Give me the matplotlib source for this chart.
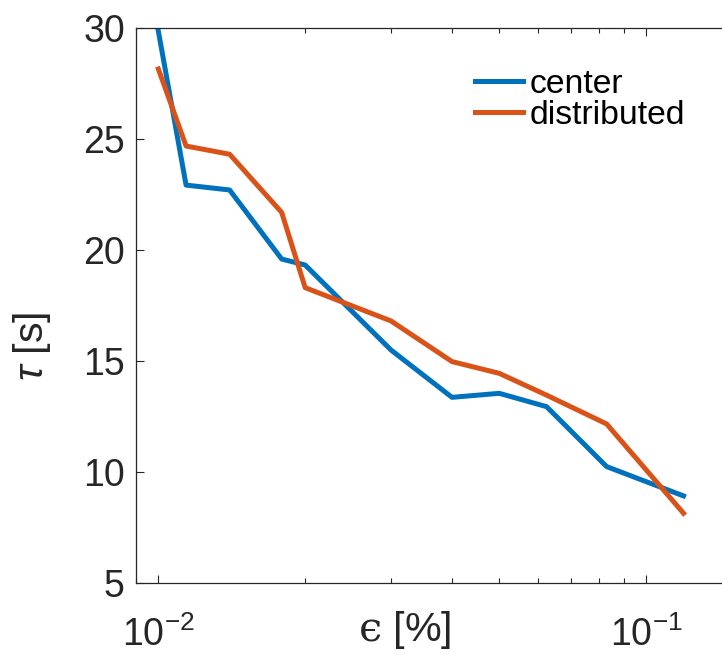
import numpy as np
import matplotlib
matplotlib.use("Agg")
import matplotlib.pyplot as plt
from matplotlib.ticker import NullFormatter

plt.rcParams['font.family'] = ['Liberation Sans', 'DejaVu Sans']
plt.rcParams['mathtext.fontset'] = 'custom'
plt.rcParams['mathtext.rm'] = 'Liberation Sans'
plt.rcParams['mathtext.it'] = 'Liberation Sans:italic'
plt.rcParams['mathtext.sf'] = 'DejaVu Serif'
plt.rcParams['axes.unicode_minus'] = False

# data
eps = [0.01, 0.0114, 0.014, 0.0179, 0.02, 0.03, 0.04, 0.05, 0.0625, 0.083, 0.1193]
tau_center = [29.85, 22.91, 22.69, 19.58, 19.31, 15.48, 13.35, 13.53, 12.93, 10.23, 8.91]
tau_distributed = [28.14, 24.67, 24.30, 21.68, 18.29, 16.79, 14.96, 14.43, 13.45, 12.15, 8.13]
labels = ["center", "distributed"]

W, H = 722, 655
fig = plt.figure(figsize=(W / 100, H / 100), dpi=100)
ax = fig.add_axes([136 / W, 1 - 582.7 / H, (732 - 136) / W, (582.7 - 27.7) / H])

ax.plot(eps, tau_center, color='#0072BD', lw=3.6, label=labels[0])
ax.plot(eps, tau_distributed, color='#D95319', lw=3.6, label=labels[1])

ax.set_xscale('log')
ax.set_xlim(0.009, 0.15)
ax.set_ylim(5, 30)
ax.set_yticks([5, 10, 15, 20, 25, 30])
ax.xaxis.set_minor_formatter(NullFormatter())

dark = '#262626'
for s in ax.spines.values():
    s.set_color(dark)
    s.set_linewidth(0.9)
ax.tick_params(which='both', direction='in', top=True, right=True,
               colors=dark, labelsize=27, width=0.8)
ax.tick_params(which='major', length=6)
ax.tick_params(which='minor', length=3.5)
ax.tick_params(axis='y', which='major', pad=8)
ax.tick_params(axis='x', which='major', pad=24)

ax.set_xlabel('$\\mathsf{\u03f5}$ [%]', fontsize=29.7, color=dark)
ax.xaxis.set_label_coords((405 - 136) / 596, -0.047)
ax.set_ylabel(r'$\tau$ [s]', fontsize=29.7, color=dark)
ax.yaxis.set_label_coords((53 - 136) / 596, 0.4265)

ax.legend(frameon=False, loc='upper left', fontsize=24.3,
          bbox_to_anchor=(475 / W, 1 - 68.6 / H), bbox_transform=fig.transFigure,
          borderpad=0, borderaxespad=0, handlelength=1.42, handletextpad=0.21,
          labelspacing=0.007)

fig.savefig('out.png', dpi=100)
